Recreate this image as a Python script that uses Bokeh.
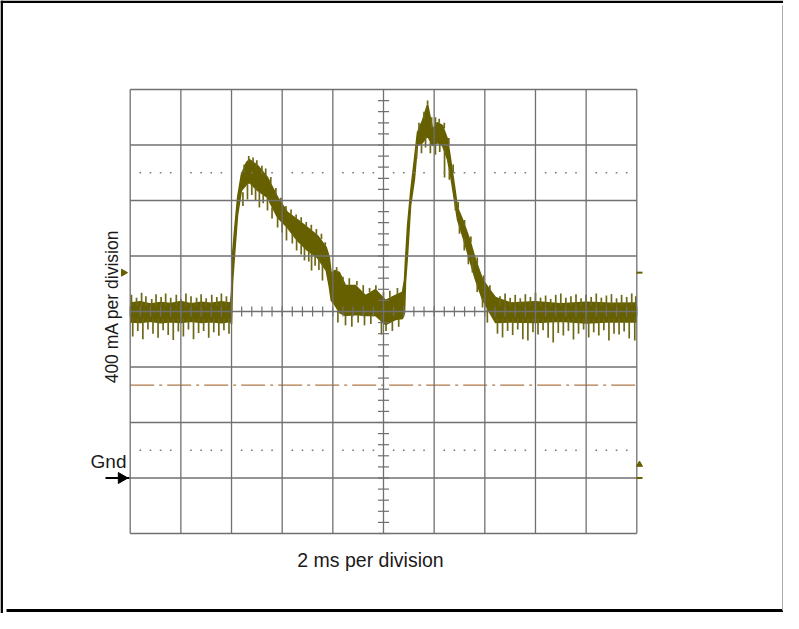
import numpy as np
from bokeh.plotting import figure
from bokeh.models import Range1d
from bokeh.core.properties import value
from bokeh.embed import file_html
from bokeh.resources import INLINE

# ---------------- data (time in ms, current in mA above ground) ----------------
x_div_ticks = [0, 2, 4, 6, 8, 10, 12, 14, 16, 18, 20]
y_div_ticks = [-400, 0, 400, 800, 1200, 1600, 2000, 2400, 2800]
x_label = "2 ms per division"
y_label = "400 mA per division"
gnd_label = "Gnd"

# envelope (dense core) of the noisy current trace
t_env = [0.00, 0.40, 0.80, 1.20, 1.60, 2.00, 2.40, 2.80, 3.20, 3.60, 3.96,
         4.00, 4.04, 4.12, 4.24, 4.39, 4.59, 4.71, 5.03, 5.42, 5.82, 6.21,
         6.60, 7.00, 7.39, 7.74, 7.86, 7.94, 8.07, 8.26, 8.50, 8.89, 9.29,
         9.68, 10.08, 10.47, 10.75, 10.83, 10.87, 10.95, 11.07, 11.22, 11.34,
         11.54, 11.74, 11.94, 12.13, 12.33, 12.53, 12.65, 12.80, 12.92, 13.12,
         13.40, 13.63, 13.91, 14.19, 14.42, 15.00, 16.00, 17.00, 18.00, 19.00, 20.00]
i_top = [1262, 1270, 1255, 1265, 1258, 1272, 1256, 1266, 1260, 1270, 1262,
         1340, 1610, 1784, 2022, 2187, 2274, 2295, 2252, 2166, 2022, 1914,
         1863, 1805, 1748, 1661, 1590, 1467, 1495, 1481, 1387, 1387, 1315,
         1358, 1279, 1315, 1340, 1430, 1575, 1820, 2058, 2295, 2490,
         2577, 2692, 2512, 2562, 2540, 2440, 2295, 2108, 1950, 1863,
         1719, 1575, 1431, 1358, 1301, 1262, 1270, 1256, 1266, 1260, 1262]
i_bot = [1125, 1120, 1130, 1118, 1126, 1120, 1130, 1120, 1126, 1118, 1128,
         1110, 1409, 1611, 1899, 2072, 2115, 2130, 2072, 2022, 1878, 1805,
         1712, 1640, 1589, 1495, 1380, 1279, 1250, 1193, 1171, 1178, 1171,
         1171, 1106, 1142, 1150, 1190, 1416, 1611, 1964, 2152, 2396,
         2418, 2468, 2396, 2418, 2396, 2295, 2180, 2007, 1863, 1748,
         1575, 1431, 1287, 1193, 1121, 1125, 1120, 1130, 1118, 1126, 1125]

# downward noise spikes on the flat parts: time, tip level (start inside the band)
base_down_t = [0.10, 0.30, 0.50, 0.70, 0.90, 1.10, 1.30, 1.50, 1.70, 1.90, 2.10, 2.30, 2.50,
               2.70, 2.90, 3.10, 3.30, 3.50, 3.70, 3.90,
               14.50, 14.70, 14.90, 15.10, 15.30, 15.50, 15.70, 15.90, 16.10, 16.30, 16.50,
               16.70, 16.90, 17.10, 17.30, 17.50, 17.70, 17.90, 18.10, 18.30, 18.50, 18.70,
               18.90, 19.10, 19.30, 19.50, 19.70, 19.92]
base_down_i = [1020, 1060, 1000, 1070, 1040, 1010, 1065, 1030, 995, 1055, 1020, 1070, 1000,
               1045, 1060, 1010, 1050, 1025, 1065, 1040,
               1040, 1013, 1060, 1030, 1070, 1000, 991, 1050, 1034, 1065, 1010,
               977, 1045, 1027, 1060, 998, 1040, 1070, 1013, 1050, 1027, 1065,
               991, 1040, 1034, 1055, 1006, 991]
# upward noise spikes on the flat parts
base_up_t = [0.05, 0.25, 0.45, 0.62, 0.85, 1.02, 1.22, 1.40, 1.60, 1.82, 2.00, 2.20, 2.40,
             2.62, 2.80, 3.00, 3.22, 3.42, 3.60, 3.80,
             14.60, 14.80, 15.00, 15.20, 15.40, 15.60, 15.80, 16.00, 16.20, 16.40, 16.60,
             16.80, 17.00, 17.20, 17.40, 17.60, 17.80, 18.00, 18.20, 18.40, 18.60, 18.80,
             19.00, 19.20, 19.40, 19.60, 19.80, 19.96]
base_up_i = [1320, 1300, 1335, 1310, 1290, 1325, 1305, 1330, 1300, 1320, 1290, 1330, 1310,
             1300, 1325, 1295, 1320, 1305, 1330, 1310,
             1310, 1330, 1300, 1320, 1295, 1325, 1305, 1335, 1300, 1315, 1290,
             1320, 1330, 1300, 1310, 1325, 1295, 1320, 1305, 1330, 1300, 1315,
             1325, 1295, 1320, 1305, 1330, 1310]

# noise spikes on the pulses and between them: time, start level, tip level
pulse_t = [4.45, 4.63, 4.80, 4.95, 5.10, 5.25, 5.42, 5.60, 5.82, 6.00, 6.17, 6.40, 6.57,
           6.75, 6.88, 7.05, 7.16, 7.30, 7.45, 7.59,
           4.50, 4.68, 4.85, 5.00, 5.20, 5.35, 5.55, 5.75, 5.95, 6.15, 6.35, 6.55, 6.75,
           6.95, 7.15, 7.35, 7.55, 7.70,
           8.20, 8.50, 8.75, 9.00, 9.25, 9.50, 9.92, 10.10, 10.35, 10.60,
           8.15, 8.40, 8.65, 8.95, 9.20, 9.45, 9.70, 10.00, 10.25, 10.55,
           11.30, 11.50, 11.66, 11.85, 12.05, 12.22, 12.41, 12.60, 12.84, 13.00, 13.19,
           13.35, 13.51, 13.70, 13.91, 14.10,
           11.40, 11.60, 11.74, 11.90, 12.05, 12.20, 12.40, 12.58, 12.75, 12.95, 13.20,
           13.45, 13.70, 13.95, 14.20]
pulse_from = [2060, 2115, 2120, 2090, 2065, 2045, 2022, 1950, 1878, 1845, 1810, 1760, 1715,
              1680, 1661, 1635, 1620, 1600, 1580, 1540,
              2200, 2280, 2270, 2250, 2210, 2180, 2120, 2040, 1990, 1925, 1900, 1870, 1840,
              1810, 1785, 1755, 1720, 1670,
              1200, 1171, 1175, 1175, 1171, 1171, 1171, 1110, 1130, 1145,
              1480, 1400, 1387, 1387, 1330, 1340, 1358, 1290, 1300, 1320,
              2380, 2418, 2468, 2420, 2400, 2410, 2382, 2230, 2007, 1830, 1733,
              1610, 1589, 1400, 1301, 1220,
              2500, 2590, 2692, 2520, 2540, 2560, 2520, 2400, 2200, 1940, 1820,
              1700, 1540, 1420, 1350]
pulse_to = [1960, 2007, 2040, 2000, 1950, 1980, 1928, 1870, 1805, 1770, 1712, 1690, 1640,
            1610, 1568, 1560, 1495, 1530, 1500, 1423,
            2260, 2320, 2310, 2290, 2250, 2230, 2170, 2090, 2020, 1960, 1935, 1900, 1880,
            1845, 1825, 1795, 1760, 1700,
            1120, 1100, 1090, 1120, 1100, 1110, 1034, 1060, 1060, 1090,
            1520, 1450, 1440, 1420, 1390, 1370, 1390, 1340, 1350, 1370,
            2300, 2340, 2382, 2340, 2330, 2350, 2166, 2150, 1928, 1760, 1640,
            1540, 1481, 1340, 1229, 1120,
            2560, 2640, 2720, 2600, 2600, 2590, 2560, 2450, 2260, 1990, 1860,
            1740, 1590, 1460, 1390]

base_down_from = 1150
base_up_from = 1240
trigger_level = 670      # mA, dash-dot line
channel_marker = 1480    # mA, olive marker left of the screen
right_marks = [1480, 0]  # mA, small olive ticks right of the screen
right_tri = [97]

# ---------------- geometry ----------------
W, H = 783, 613
GL, GR, GT, GB = 129.7, 636.3, 89.0, 533.0     # screen rectangle in figure pixels
MSPP = (x_div_ticks[-1] - x_div_ticks[0]) / (GR - GL)
MAPP = (y_div_ticks[-1] - y_div_ticks[0]) / (GB - GT)
X_START = x_div_ticks[0] - GL * MSPP
X_END = X_START + W * MSPP
Y_END = y_div_ticks[-1] + GT * MAPP
Y_START = Y_END - H * MAPP


def fx(px):
    return X_START + px * MSPP


def fy(py):
    return Y_END - py * MAPP


p = figure(width=W, height=H, output_backend="svg", toolbar_location=None,
           x_range=Range1d(X_START, X_END), y_range=Range1d(Y_START, Y_END),
           x_axis_location=None, y_axis_location=None, min_border=0,
           background_fill_color="white", border_fill_color="white")
p.outline_line_color = None
p.grid.visible = False

GRID_C = "#707070"
TRACE_C = "#666000"
t0, t1 = x_div_ticks[0], x_div_ticks[-1]
i0, i1 = y_div_ticks[0], y_div_ticks[-1]
t_mid = (t0 + t1) / 2
i_mid = (i0 + i1) / 2
t_div = x_div_ticks[1] - x_div_ticks[0]
i_div = y_div_ticks[1] - y_div_ticks[0]

# trace
p.varea(x=t_env, y1=i_bot, y2=i_top, fill_color=TRACE_C)
p.line(t_env, i_top, line_color=TRACE_C, line_width=1.5)
p.line(t_env, i_bot, line_color=TRACE_C, line_width=1.5)
p.segment(x0=base_down_t, y0=[base_down_from] * len(base_down_t), x1=base_down_t,
          y1=base_down_i, line_color="#6e6918", line_width=1.7)
p.segment(x0=base_up_t, y0=[base_up_from] * len(base_up_t), x1=base_up_t,
          y1=base_up_i, line_color="#6e6918", line_width=1.7)
p.segment(x0=pulse_t, y0=pulse_from, x1=pulse_t, y1=pulse_to,
          line_color="#6e6918", line_width=1.7)

# trigger level
p.line([t0, t1], [trigger_level, trigger_level],
       line_color="#b07a48", line_width=1.2, line_dash="24 5 3 5")

# reticle grid (drawn over the trace)
p.segment(x0=x_div_ticks, y0=[i0] * len(x_div_ticks), x1=x_div_ticks,
          y1=[i1] * len(x_div_ticks), line_color=GRID_C, line_width=1.3)
p.segment(x0=[t0] * len(y_div_ticks), y0=y_div_ticks, x1=[t1] * len(y_div_ticks),
          y1=y_div_ticks, line_color=GRID_C, line_width=1.3)

# minor ticks on centre cross
n_y = int(round((i1 - i0) / (i_div / 5)))
tick_i = [i0 + k * i_div / 5 for k in range(n_y + 1)]
p.scatter([t_mid] * len(tick_i), tick_i, marker="dash", size=11,
          line_color=GRID_C, line_width=1.2)
n_x = int(round((t1 - t0) / (t_div / 5)))
tick_t = [t0 + k * t_div / 5 for k in range(n_x + 1)]
p.scatter(tick_t, [i_mid] * len(tick_t), marker="dash", angle=np.pi / 2, size=10,
          line_color=GRID_C, line_width=1.2)

# dotted lines at +/- 2.5 divisions
dot_t = [t0 + k * t_div / 5 for k in range(1, n_x) if k % 5 != 0]
for lvl in (i_mid + 2.5 * i_div, i_mid - 2.5 * i_div):
    p.scatter(dot_t, [lvl] * len(dot_t), marker="square", size=1.6,
              fill_color="#7a7a7a", line_color=None)

# ground arrow
p.line([fx(105), fx(129)], [0, 0], line_color="black", line_width=2)
p.scatter([fx(121)], [0], marker="triangle", angle=-np.pi / 2, size=11,
          fill_color="black", line_color="black")
# channel markers
p.scatter([fx(123)], [channel_marker], marker="triangle", angle=-np.pi / 2, size=7,
          fill_color=TRACE_C, line_color=TRACE_C)
p.scatter([fx(639)] * len(right_marks), right_marks, marker="dash", size=6,
          line_color=TRACE_C, line_width=2)
p.scatter([fx(639)], right_tri, marker="triangle", size=6,
          fill_color=TRACE_C, line_color=TRACE_C)

# texts
FONT = value("Liberation Sans")
p.text(x=[fx(370)], y=[fy(559)], text=[x_label], text_font=FONT,
       text_font_size="19.5px", text_align="center", text_baseline="middle",
       text_color="#1a1a1a")
p.text(x=[fx(111)], y=[fy(306)], text=[y_label], text_font=FONT,
       text_font_size="17.5px", text_align="center", text_baseline="middle",
       angle=np.pi / 2, text_color="#1a1a1a")
p.text(x=[fx(108)], y=[fy(461)], text=[gnd_label], text_font=FONT,
       text_font_size="19px", text_align="center", text_baseline="middle",
       text_color="#1a1a1a")

# page frame lines
p.line([fx(0), fx(W)], [fy(1.2), fy(1.2)], line_color="black", line_width=2.5)
p.line([fx(1.2), fx(1.2)], [fy(0), fy(H)], line_color="black", line_width=2.5)
p.line([fx(6), fx(W)], [fy(610), fy(610)], line_color="black", line_width=3)
p.line([fx(W - 1), fx(W - 1)], [fy(5), fy(610)], line_color="#a8a8a8", line_width=1)

open("out.html", "w").write(file_html(p, INLINE))
